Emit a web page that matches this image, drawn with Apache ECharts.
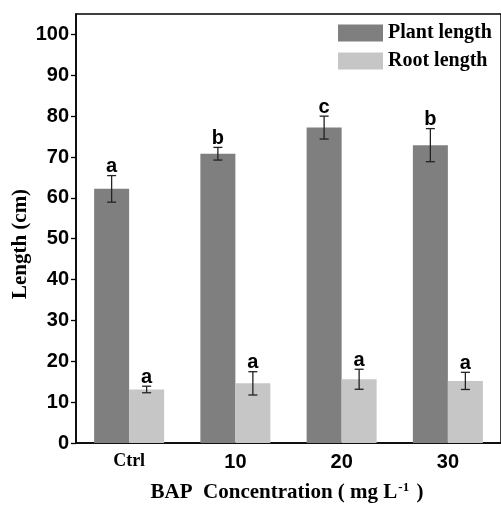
<!DOCTYPE html>
<html>
<head>
<meta charset="utf-8">
<script src="https://cdn.jsdelivr.net/npm/echarts@6/dist/echarts.min.js"></script>
<style>
  html, body { margin: 0; padding: 0; background: #fff; }
  #chart { width: 501px; height: 505px; }
</style>
</head>
<body>
<div id="chart"></div>
<script>
// BAP concentration groups
const categories = ['Ctrl', '10', '20', '30'];

// Plant length (cm): mean, standard error, significance letter
const plantLength = [62.2, 70.8, 77.2, 72.9];
const plantError = [3.25, 1.55, 2.8, 4.05];
const plantLetters = ['a', 'b', 'c', 'b'];

// Root length (cm): mean, standard error, significance letter
const rootLength = [13.1, 14.6, 15.6, 15.2];
const rootError = [0.8, 2.85, 2.45, 2.1];
const rootLetters = ['a', 'a', 'a', 'a'];

// Value-axis tick labels
const yTicks = [0, 10, 20, 30, 40, 50, 60, 70, 80, 90, 100];

const PLANT_COLOR = '#7f7f7f';
const ROOT_COLOR = '#c6c6c6';
const BAR_W = 35;
const SANS = 'Arial, "Liberation Sans", sans-serif';
const SERIF = '"Times New Roman", "Liberation Serif", serif';

// Error bars plus the significance letter above each bar
function errorSeries(values, errors, letters, offset) {
  return {
    type: 'custom',
    silent: true,
    z: 5,
    data: values.map((v, i) => [i, v, errors[i]]),
    renderItem(params, api) {
      const i = api.value(0), v = api.value(1), e = api.value(2);
      const x = api.coord([i, v])[0] + offset;
      const yTop = api.coord([i, v + e])[1];
      const yBot = api.coord([i, v - e])[1];
      const cap = 4.5;
      const st = { stroke: '#222', lineWidth: 1.3 };
      return {
        type: 'group',
        children: [
          { type: 'line', shape: { x1: x, y1: yTop, x2: x, y2: yBot }, style: st },
          { type: 'line', shape: { x1: x - cap, y1: yTop, x2: x + cap, y2: yTop }, style: st },
          { type: 'line', shape: { x1: x - cap, y1: yBot, x2: x + cap, y2: yBot }, style: st },
          {
            type: 'text', x: x, y: yTop + 1,
            style: {
              text: letters[params.dataIndex],
              align: 'center', verticalAlign: 'bottom',
              font: 'bold 20px ' + SANS, fill: '#000'
            }
          }
        ]
      };
    }
  };
}

const chart = echarts.init(document.getElementById('chart'), null, { renderer: 'canvas' });

chart.setOption({
  animation: false,
  backgroundColor: '#fff',
  grid: {
    left: 76, right: -1, top: 14, bottom: 62,
    show: true, borderColor: '#000', borderWidth: 1.5, backgroundColor: 'transparent'
  },
  legend: {
    orient: 'vertical',
    left: 338, top: 23,
    padding: 0,
    itemWidth: 45, itemHeight: 17, itemGap: 8,
    icon: 'rect',
    data: ['Plant length', 'Root length'],
    textStyle: { fontFamily: SERIF, fontWeight: 'bold', fontSize: 20, color: '#000' }
  },
  xAxis: {
    type: 'category',
    data: categories,
    axisLine: { lineStyle: { color: '#000', width: 1.5 } },
    axisTick: { alignWithLabel: true, length: 5, lineStyle: { color: '#000', width: 1.3 } },
    axisLabel: {
      margin: 9,
      formatter: v => v === 'Ctrl' ? '{s|' + v + '}' : '{n|' + v + '}',
      rich: {
        s: { fontFamily: SERIF, fontWeight: 'bold', fontSize: 18, color: '#000' },
        n: { fontFamily: SANS, fontWeight: 'bold', fontSize: 20, color: '#000' }
      }
    },
    splitLine: { show: false }
  },
  yAxis: {
    type: 'value',
    min: 0, max: 105,
    axisLine: { show: true, lineStyle: { color: '#000', width: 1.5 } },
    axisTick: { show: true, length: 5, customValues: yTicks, lineStyle: { color: '#000', width: 1.3 } },
    axisLabel: {
      margin: 7, customValues: yTicks,
      fontFamily: SANS, fontWeight: 'bold', fontSize: 20, color: '#000'
    },
    splitLine: { show: false }
  },
  series: [
    {
      name: 'Plant length', type: 'bar', data: plantLength,
      barWidth: BAR_W, barGap: '0%',
      itemStyle: { color: PLANT_COLOR }
    },
    {
      name: 'Root length', type: 'bar', data: rootLength,
      barWidth: BAR_W, barGap: '0%',
      itemStyle: { color: ROOT_COLOR }
    },
    errorSeries(plantLength, plantError, plantLetters, -BAR_W / 2),
    errorSeries(rootLength, rootError, rootLetters, BAR_W / 2)
  ],
  graphic: [
    {
      type: 'text', x: 21, y: 244, rotation: Math.PI / 2,
      style: {
        text: 'Length (cm)', align: 'center', verticalAlign: 'middle',
        font: 'bold 21px ' + SERIF, fill: '#000'
      }
    },
    {
      type: 'text', x: 287, y: 493,
      style: {
        text: '{t|BAP  Concentration ( mg L}{sup|-1}{t| )}',
        align: 'center', verticalAlign: 'middle',
        rich: {
          t: { fontFamily: SERIF, fontWeight: 'bold', fontSize: 21, color: '#000', lineHeight: 24 },
          sup: { fontFamily: SERIF, fontWeight: 'bold', fontSize: 13, color: '#000', lineHeight: 24, verticalAlign: 'top', padding: [0, 2, 12, 1] }
        }
      }
    }
  ]
});
</script>
</body>
</html>
